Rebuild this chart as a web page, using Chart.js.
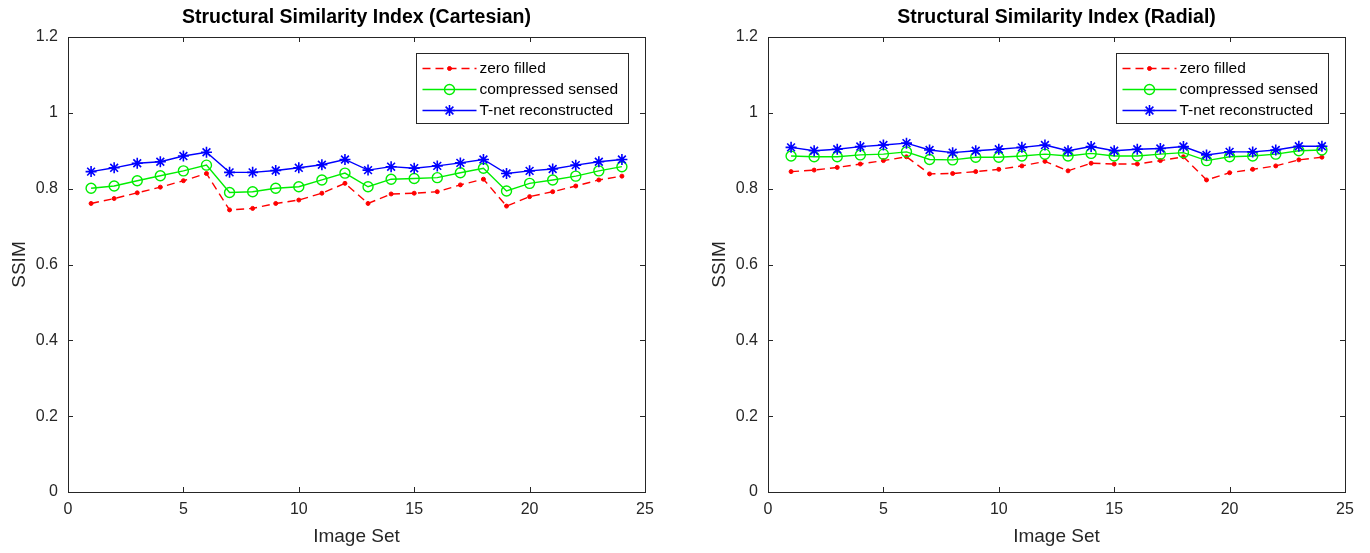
<!DOCTYPE html>
<html>
<head>
<meta charset="utf-8">
<script src="https://cdn.jsdelivr.net/npm/chart.js@4.4.0/dist/chart.umd.min.js"></script>
<style>
  body { margin: 0; background: #fff; }
  #wrap { position: relative; width: 1370px; height: 553px; }
  #wrap canvas { position: absolute; top: 0; }
</style>
</head>
<body>
<div id="wrap">
  <canvas id="cartesian" width="685" height="553" style="left:0"></canvas>
  <canvas id="radial" width="685" height="553" style="left:685px"></canvas>
</div>
<script>
// image set numbers on the x axis
const imageSets = [1, 2, 3, 4, 5, 6, 7, 8, 9, 10, 11, 12, 13, 14, 15, 16, 17, 18, 19, 20, 21, 22, 23, 24];

// Cartesian sampling
const cartZeroFilled = [0.761, 0.774, 0.789, 0.804, 0.821, 0.840, 0.744, 0.748, 0.761, 0.770, 0.788, 0.814,
                        0.761, 0.786, 0.788, 0.792, 0.810, 0.825, 0.754, 0.779, 0.792, 0.807, 0.823, 0.833];
const cartCompressed = [0.801, 0.807, 0.821, 0.834, 0.847, 0.862, 0.790, 0.792, 0.801, 0.805, 0.823, 0.841,
                        0.805, 0.825, 0.827, 0.829, 0.842, 0.854, 0.794, 0.814, 0.823, 0.833, 0.847, 0.858];
const cartTnet = [0.845, 0.855, 0.867, 0.871, 0.886, 0.896, 0.843, 0.843, 0.848, 0.855, 0.863, 0.877,
                  0.849, 0.858, 0.854, 0.860, 0.868, 0.877, 0.840, 0.847, 0.852, 0.862, 0.871, 0.877];

// Radial sampling
const radZeroFilled = [0.845, 0.849, 0.856, 0.865, 0.874, 0.884, 0.839, 0.840, 0.845, 0.851, 0.860, 0.872,
                       0.847, 0.867, 0.865, 0.865, 0.874, 0.884, 0.823, 0.842, 0.851, 0.860, 0.876, 0.883];
const radCompressed = [0.886, 0.884, 0.884, 0.889, 0.891, 0.897, 0.877, 0.876, 0.883, 0.883, 0.886, 0.891,
                       0.886, 0.893, 0.886, 0.886, 0.891, 0.895, 0.874, 0.884, 0.886, 0.891, 0.900, 0.902];
const radTnet = [0.909, 0.900, 0.904, 0.911, 0.915, 0.920, 0.902, 0.895, 0.900, 0.904, 0.909, 0.915,
                 0.900, 0.911, 0.900, 0.904, 0.906, 0.911, 0.889, 0.897, 0.897, 0.902, 0.912, 0.912];

const seriesNames = ['zero filled', 'compressed sensed', 'T-net reconstructed'];
const xTicks = [0, 5, 10, 15, 20, 25];
const yTicks = [0, 0.2, 0.4, 0.6, 0.8, 1, 1.2];
const yTickLabels = ['0', '0.2', '0.4', '0.6', '0.8', '1', '1.2'];

const FONT = "'Liberation Sans', Arial, Helvetica, sans-serif";
const AXIS = '#262626';

function toPoints(vals) {
  return vals.map((v, i) => ({ x: imageSets[i], y: v }));
}

// box around the axes with inward ticks on all four sides (matlab look)
const boxPlugin = {
  id: 'box',
  afterDraw(chart) {
    const ctx = chart.ctx;
    const a = chart.chartArea;
    const xs = chart.scales.x, ys = chart.scales.y;
    const len = 5;
    ctx.save();
    ctx.strokeStyle = AXIS;
    ctx.lineWidth = 1;
    ctx.strokeRect(Math.round(a.left) + 0.5, Math.round(a.top) + 0.5, Math.round(a.width), Math.round(a.height));
    ctx.beginPath();
    xTicks.forEach(v => {
      const px = Math.round(xs.getPixelForValue(v)) + 0.5;
      ctx.moveTo(px, a.bottom); ctx.lineTo(px, a.bottom - len);
      ctx.moveTo(px, a.top); ctx.lineTo(px, a.top + len);
    });
    yTicks.forEach(v => {
      const py = Math.round(ys.getPixelForValue(v)) + 0.5;
      ctx.moveTo(a.left, py); ctx.lineTo(a.left + len, py);
      ctx.moveTo(a.right, py); ctx.lineTo(a.right - len, py);
    });
    ctx.stroke();
    ctx.restore();
  }
};

// legend inside the top right corner
const legendPlugin = {
  id: 'boxLegend',
  afterDraw(chart) {
    const ctx = chart.ctx;
    const a = chart.chartArea;
    const w = 212, h = 70;
    const left = Math.round(a.right - 229) + 0.5;
    const top = Math.round(a.top + 16) + 0.5;
    ctx.save();
    ctx.fillStyle = '#fff';
    ctx.fillRect(left, top, w, h);
    ctx.strokeStyle = AXIS;
    ctx.lineWidth = 1;
    ctx.strokeRect(left, top, w, h);
    chart.data.datasets.forEach((ds, i) => {
      const y = top + 15 + i * 21;
      const x0 = left + 6, x1 = left + 60, xm = (x0 + x1) / 2;
      ctx.strokeStyle = ds.borderColor;
      ctx.lineWidth = ds.borderWidth;
      ctx.setLineDash(ds.borderDash || []);
      ctx.beginPath();
      ctx.moveTo(x0, y); ctx.lineTo(x1, y);
      ctx.stroke();
      ctx.setLineDash([]);
      ctx.fillStyle = ds.backgroundColor;
      ctx.lineWidth = ds.pointBorderWidth;
      Chart.helpers.drawPoint(ctx, {
        pointStyle: ds.pointStyle, radius: ds.pointRadius, borderWidth: ds.pointBorderWidth, rotation: 0
      }, xm, y);
      ctx.fillStyle = '#000';
      ctx.font = '15.5px ' + FONT;
      ctx.textBaseline = 'middle';
      ctx.fillText(ds.label, x1 + 3, y);
    });
    ctx.restore();
  }
};

function makeChart(id, title, zero, cs, tnet, padLeft, padRight) {
  const ctx = document.getElementById(id).getContext('2d');
  return new Chart(ctx, {
    type: 'line',
    data: {
      datasets: [
        {
          label: seriesNames[0], data: toPoints(zero),
          borderColor: '#ff0000', backgroundColor: '#ff0000', borderWidth: 1.4, borderDash: [8, 5],
          pointStyle: 'circle', pointRadius: 2, pointBorderWidth: 1, order: 3
        },
        {
          label: seriesNames[1], data: toPoints(cs),
          borderColor: '#00ee00', backgroundColor: 'rgba(0,0,0,0)', borderWidth: 1.4,
          pointStyle: 'circle', pointRadius: 5, pointBorderWidth: 1.4, order: 2
        },
        {
          label: seriesNames[2], data: toPoints(tnet),
          borderColor: '#0000ff', backgroundColor: '#0000ff', borderWidth: 1.4,
          pointStyle: 'star', pointRadius: 5.5, pointBorderWidth: 1.6, order: 1
        }
      ]
    },
    options: {
      responsive: false,
      animation: false,
      devicePixelRatio: 1,
      layout: { padding: { left: padLeft, right: padRight, top: 0, bottom: 0 } },
      plugins: {
        legend: { display: false },
        tooltip: { enabled: false },
        title: {
          display: true, text: title, color: '#000', fullSize: false,
          font: { family: FONT, size: 19.5, weight: 'bold' },
          padding: { top: 6, bottom: 7.6 }
        }
      },
      scales: {
        x: {
          type: 'linear', min: 0, max: 25,
          afterBuildTicks: s => { s.ticks = xTicks.map(v => ({ value: v })); },
          afterFit: s => { s.height = 61; },
          grid: { display: false, drawTicks: false },
          border: { display: false },
          ticks: { color: AXIS, padding: 8, font: { family: FONT, size: 16 } },
          title: { display: true, text: 'Image Set', color: AXIS, padding: { top: 0, bottom: 4.6 },
                   font: { family: FONT, size: 19 } }
        },
        y: {
          type: 'linear', min: 0, max: 1.2,
          afterBuildTicks: s => { s.ticks = yTicks.map(v => ({ value: v })); },
          afterFit: s => { s.width = 68; },
          grid: { display: false, drawTicks: false },
          border: { display: false },
          ticks: { color: AXIS, padding: 10, font: { family: FONT, size: 16 },
                   callback: (v, i) => yTickLabels[i] },
          title: { display: true, text: 'SSIM', color: AXIS, padding: { top: 8.6, bottom: 0 },
                   font: { family: FONT, size: 19 } }
        }
      }
    },
    plugins: [boxPlugin, legendPlugin]
  });
}

makeChart('cartesian', 'Structural Similarity Index (Cartesian)', cartZeroFilled, cartCompressed, cartTnet, 0, 40);
makeChart('radial', 'Structural Similarity Index (Radial)', radZeroFilled, radCompressed, radTnet, 15, 25);
</script>
</body>
</html>
